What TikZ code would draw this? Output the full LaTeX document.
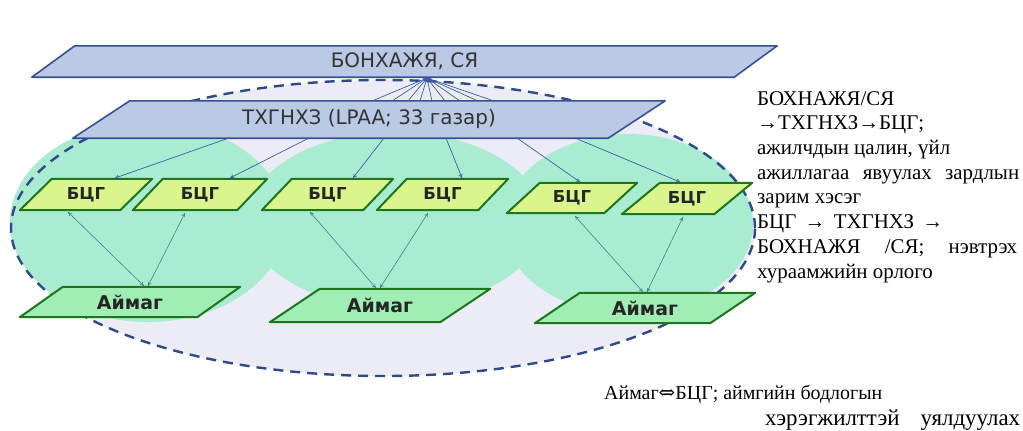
\documentclass[tikz,border=0pt]{standalone}
\usepackage{fontspec}
\setmainfont{Liberation Serif}
\newfontfamily\boxfont{DejaVu Sans}
\newfontfamily\symfont{DejaVu Serif}
\usetikzlibrary{arrows.meta,backgrounds,calc}
\definecolor{lav}{RGB}{236,236,247}
\definecolor{mint}{RGB}{170,236,210}
\definecolor{dashblue}{RGB}{46,74,138}
\definecolor{boxblue}{RGB}{186,201,228}
\definecolor{boxedge}{RGB}{58,80,150}
\definecolor{bcgfill}{RGB}{218,244,142}
\definecolor{aimfill}{RGB}{160,238,180}
\definecolor{greenedge}{RGB}{28,118,28}
\definecolor{fanblue}{RGB}{60,94,160}
\definecolor{linkteal}{RGB}{60,128,140}
\newcommand\paral[3]{\path[#3] (#1.south west) -- ([xshift=#2bp]#1.north west) -- (#1.north east) -- ([xshift=-#2bp]#1.south east) -- cycle;}
\tikzset{
  blab/.style={inner sep=0pt, font=\boxfont\fontsize{20}{22}\selectfont, text=black!80},
  glab/.style={inner sep=0pt, font=\boxfont\bfseries\fontsize{16.5}{19}\selectfont, text=black!85},
  alab/.style={glab, font=\boxfont\bfseries\fontsize{19}{21}\selectfont},
  bluebox/.style={fill=boxblue, draw=boxedge, line width=1.6bp, line join=round},
  bcgbox/.style={fill=bcgfill, draw=greenedge, line width=2bp, line join=round},
  aimbox/.style={fill=aimfill, draw=greenedge, line width=2bp, line join=round},
  fan/.style={draw=fanblue, line width=0.7bp, -{To[length=4bp,width=4bp]}},
  link/.style={draw=linkteal, line width=0.6bp, {To[length=4bp,width=4bp]}-{To[length=4bp,width=4bp]}},
  note/.style={inner sep=0pt, align=left, text=black, font=\fontsize{21}{24.8}\selectfont},
}
\begin{document}
\begin{tikzpicture}[x=1bp,y=-1bp]
\useasboundingbox (0,0) rectangle (1023,430);
% nodes (text)
\node[blab, minimum width=745bp, minimum height=31bp] (top) at (404.5,61.5) {БОНХАЖЯ, СЯ};
\node[blab, minimum width=592bp, minimum height=37bp] (tx) at (369,119.5) {ТХГНХЗ (LPAA; 33 газар)};
\node[glab, minimum width=132bp, minimum height=31bp] (b1) at (86,194.5) {БЦГ};
\node[glab, minimum width=134bp, minimum height=31bp] (b2) at (200,194.5) {БЦГ};
\node[glab, minimum width=131bp, minimum height=31bp] (b3) at (327.5,194.5) {БЦГ};
\node[glab, minimum width=131bp, minimum height=31bp] (b4) at (442.5,194.5) {БЦГ};
\node[glab, minimum width=130bp, minimum height=30bp] (b5) at (572,198) {БЦГ};
\node[glab, minimum width=130bp, minimum height=31bp] (b6) at (687,198.5) {БЦГ};
\node[alab, minimum width=220bp, minimum height=30bp] (a1) at (130,302) {Аймаг};
\node[alab, minimum width=220bp, minimum height=33bp] (a2) at (380,305.5) {Аймаг};
\node[alab, minimum width=220bp, minimum height=30bp] (a3) at (645,308) {Аймаг};
\begin{pgfonlayer}{background}
  \fill[white] (0,0) rectangle (1023,430);
  \fill[lav] (383,228) ellipse [x radius=372bp, y radius=148bp];
  \fill[mint] (148,222) ellipse [x radius=138bp, y radius=100bp];
  \fill[mint] (395,220) ellipse [x radius=148bp, y radius=88bp];
  \fill[mint] (628,224) ellipse [x radius=125bp, y radius=90bp];
  \draw[dashblue, line width=2.4bp, dash pattern=on 10bp off 7bp] (383,228) ellipse [x radius=372bp, y radius=148bp];
  \paral{top}{43}{bluebox}
  \paral{tx}{57}{bluebox}
  \paral{b1}{32}{bcgbox}
  \paral{b2}{30}{bcgbox}
  \paral{b3}{30}{bcgbox}
  \paral{b4}{30}{bcgbox}
  \paral{b5}{33}{bcgbox}
  \paral{b6}{38}{bcgbox}
  \paral{a1}{43}{aimbox}
  \paral{a2}{50}{aimbox}
  \paral{a3}{45}{aimbox}
\end{pgfonlayer}
% connectors: ТХГНХЗ -> БОНХАЖЯ
\coordinate (hub) at (427,78);
\foreach \i/\x in {1/372,2/392,3/408,4/420,5/432,6/445,7/460,8/478,9/494}{
  \coordinate (tu\i) at (\x,101);
  \draw[fan] (tu\i) -- (hub);
}
% ТХГНХЗ -> БЦГ
\coordinate (td1) at (229,138);
\coordinate (td2) at (309,138);
\coordinate (td3) at (384,138);
\coordinate (td4) at (446,138);
\coordinate (td5) at (517,138);
\coordinate (td6) at (575,138);
\coordinate (bt1) at (115,178);
\coordinate (bt2) at (230,178);
\coordinate (bt3) at (353,178);
\coordinate (bt4) at (462,178);
\coordinate (bt5) at (580,182);
\coordinate (bt6) at (680,182);
\foreach \i in {1,...,6}{\draw[fan] (td\i) -- (bt\i);}
% БЦГ <-> Аймаг
\coordinate (bb1) at (68,212);
\coordinate (bb2) at (185,213);
\coordinate (bb3) at (310,212);
\coordinate (bb4) at (428,213);
\coordinate (bb5) at (575,216);
\coordinate (bb6) at (683,217);
\coordinate (at1) at (144,286);
\coordinate (at2) at (148,286);
\coordinate (at3) at (376,288);
\coordinate (at4) at (380,288);
\coordinate (at5) at (643,292);
\coordinate (at6) at (647,292);
\foreach \i in {1,...,6}{\draw[link] (bb\i) -- (at\i);}
% notes
\node[note, anchor=north west] (n1) at (757,91) {БОХНАЖЯ/СЯ\\
→ТХГНХЗ→БЦГ;\\
ажилчдын цалин, үйл\\
\makebox[262bp][s]{ажиллагаа явуулах зардлын}\\
зарим хэсэг\\
\makebox[186bp][s]{БЦГ → ТХГНХЗ →}\\
\makebox[260bp][s]{БОХНАЖЯ /СЯ; нэвтрэх}\\
хураамжийн орлого};
\node[note, anchor=north west, font=\fontsize{20}{26}\selectfont] (n2) at (604,385) {Аймаг{\symfont ⇔}БЦГ; аймгийн бодлогын\\
\hspace*{161bp}{\fontsize{23}{26}\selectfont\makebox[255bp][s]{хэрэгжилттэй~ уялдуулах}}};
\end{tikzpicture}
\end{document}
